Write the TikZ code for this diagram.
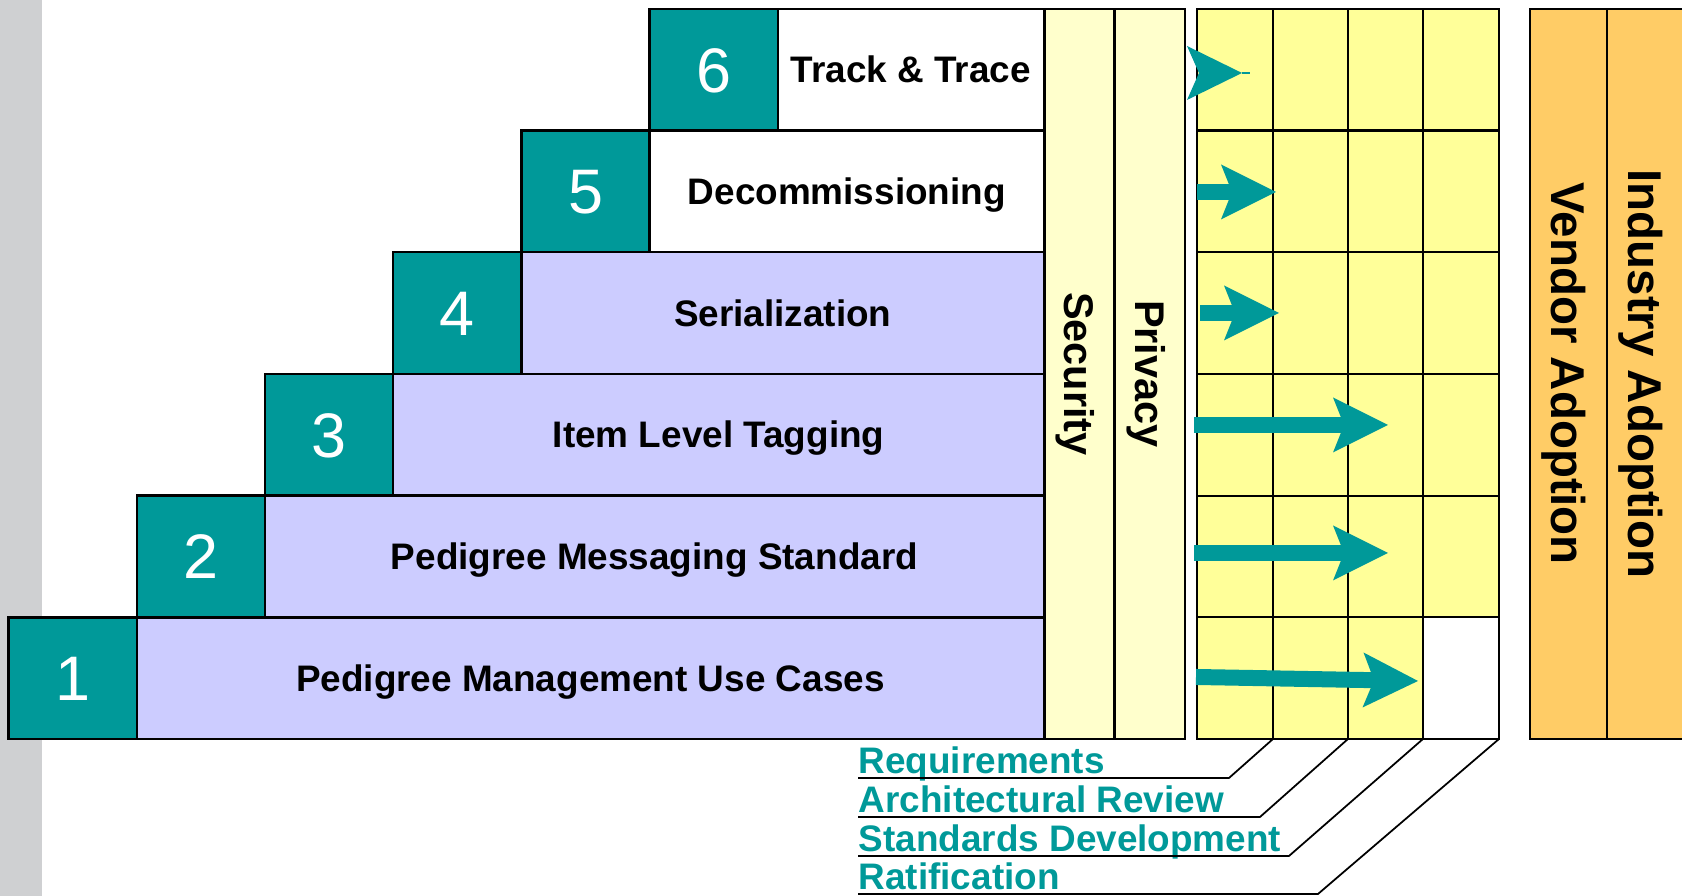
\documentclass[tikz,border=0pt]{standalone}
\usepackage{fontspec}
\setmainfont{Liberation Sans}
\usetikzlibrary{positioning,arrows.meta}

\definecolor{stepteal}{RGB}{0,153,153}
\definecolor{steplav}{RGB}{204,204,255}
\definecolor{sideyel}{RGB}{255,255,204}
\definecolor{gridyel}{RGB}{255,255,153}
\definecolor{adoptorange}{RGB}{255,204,102}
\definecolor{stripgrey}{RGB}{207,208,210}

\begin{document}
\begin{tikzpicture}[
  numbox/.style={draw, fill=stepteal, text=white, line width=0.7pt, inner sep=0pt, outer sep=0pt,
    minimum width=1.282cm, minimum height=1.217cm, text height=12.8pt, text depth=0pt,
    font=\fontsize{17.9}{20}\selectfont},
  stepbox/.style={draw, line width=0.7pt, inner sep=0pt, outer sep=0pt, minimum height=1.217cm,
    text height=7.5pt, text depth=0pt, font=\fontsize{10.5}{12}\selectfont\bfseries},
  sidebox/.style={draw, fill=sideyel, rotate=-90, line width=0.7pt, inner sep=0pt, outer sep=0pt,
    minimum width=7.302cm, minimum height=0.70cm, text height=8.45pt, text depth=0pt,
    font=\fontsize{11.8}{13}\selectfont\bfseries},
  adoptbox/.style={sidebox, fill=adoptorange, minimum height=0.77cm, text height=9.67pt,
    font=\fontsize{13.5}{15}\selectfont\bfseries},
  bigarrow/.style={draw=stepteal, line width=0.16cm,
    -{Stealth[length=0.55cm, width=0.55cm, inset=0.11cm, line width=0pt]}},
  leader/.style={line width=0.5pt},
  linklabel/.style={text=stepteal, inner sep=0pt, inner ysep=0.035cm, text depth=0pt,
    anchor=south west, font=\fontsize{10.5}{12}\selectfont\bfseries}
]
\useasboundingbox (0,0) rectangle (16.82,8.96);
\fill[stripgrey] (0,0) rectangle (0.42,8.96);

% steps
\node[numbox] (n1) at (0.727,2.1785) {1};
\node[stepbox, fill=steplav, right=0pt of n1, minimum width=9.072cm] (s1) {Pedigree Management Use Cases};

\node[numbox, above right=0pt and 0pt of n1] (n2) {2};
\node[stepbox, fill=steplav, right=0pt of n2, minimum width=7.79cm] (s2) {Pedigree Messaging Standard};

\node[numbox, above right=0pt and 0pt of n2] (n3) {3};
\node[stepbox, fill=steplav, right=0pt of n3, minimum width=6.508cm] (s3) {Item Level Tagging};

\node[numbox, above right=0pt and 0pt of n3] (n4) {4};
\node[stepbox, fill=steplav, right=0pt of n4, minimum width=5.226cm] (s4) {Serialization};

\node[numbox, above right=0pt and 0pt of n4] (n5) {5};
\node[stepbox, fill=white, right=0pt of n5, minimum width=3.944cm] (s5) {Decommissioning};

\node[numbox, above right=0pt and 0pt of n5] (n6) {6};
\node[stepbox, fill=white, right=0pt of n6, minimum width=2.662cm] (s6) {Track \& Trace};

% side columns
\node[sidebox] (sec) at (10.795,5.221) {Security};
\node[sidebox] (priv) at (11.50,5.221) {Privacy};

% grid
\fill[gridyel] (11.97,1.57) rectangle (14.99,8.872);
\fill[white] (14.23,1.57) rectangle (14.99,2.787);
\draw[line width=0.7pt] (11.97,1.57) rectangle (14.99,8.872);
\draw[line width=0.6pt] (12.73,1.57) -- (12.73,8.872);
\draw[line width=0.6pt] (13.48,1.57) -- (13.48,8.872);
\draw[line width=0.6pt] (14.23,1.57) -- (14.23,8.872);
\draw[line width=0.6pt] (11.97,2.787) -- (14.99,2.787);
\draw[line width=0.6pt] (11.97,4.004) -- (14.99,4.004);
\draw[line width=0.6pt] (11.97,5.221) -- (14.99,5.221);
\draw[line width=0.6pt] (11.97,6.438) -- (14.99,6.438);
\draw[line width=0.6pt] (11.97,7.655) -- (14.99,7.655);

\coordinate (g1) at (12.73,1.57);
\coordinate (g2) at (13.48,1.57);
\coordinate (g3) at (14.23,1.57);
\coordinate (g4) at (14.99,1.57);

% adoption
\node[adoptbox] (vend) at (15.685,5.221) {Vendor Adoption};
\node[adoptbox] (ind) at (16.455,5.221) {Industry Adoption};

% arrows
\fill[stepteal] (11.87,8.50) -- (12.42,8.23) -- (11.87,7.96) -- (11.99,8.23) -- cycle;
\draw[stepteal, line width=0.4pt] (12.42,8.23) -- (12.50,8.23);
\draw[bigarrow] (11.97,7.04) -- (12.76,7.04);
\draw[bigarrow] (12.00,5.83) -- (12.79,5.83);
\draw[bigarrow] (11.94,4.71) -- (13.88,4.71);
\draw[bigarrow] (11.94,3.43) -- (13.88,3.43);
\draw[bigarrow] (11.96,2.19) -- (14.18,2.15);

% phases
\node[linklabel] (req) at (8.58,1.18) {Requirements};
\node[linklabel] (arch) at (8.58,0.79) {Architectural Review};
\node[linklabel] (std) at (8.58,0.40) {Standards Development};
\node[linklabel] (rat) at (8.58,0.02) {Ratification};

\draw[leader] (g1) -- (12.29,1.18) -- (req.south west);
\draw[leader] (g2) -- (12.60,0.79) -- (arch.south west);
\draw[leader] (g3) -- (12.89,0.40) -- (std.south west);
\draw[leader] (g4) -- (13.18,0.02) -- (rat.south west);

\end{tikzpicture}
\end{document}
